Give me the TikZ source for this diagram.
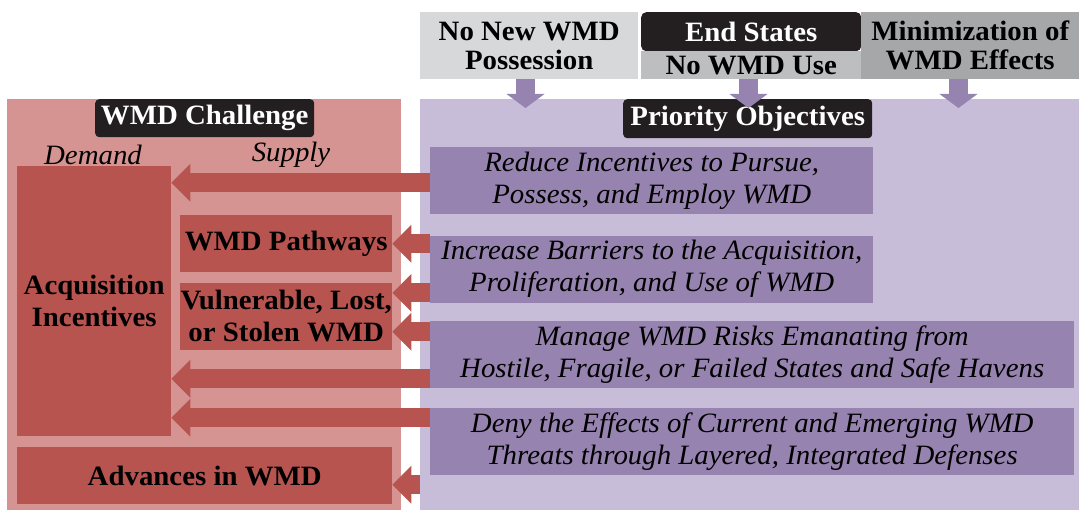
\documentclass[tikz,border=0pt]{standalone}
\usepackage{fontspec}
\setmainfont{Liberation Serif}[FakeStretch=1.03]
\usepackage{xcolor}
\usepackage{tikz}
\usetikzlibrary{arrows.meta,positioning,calc}
\definecolor{WMDpink}{HTML}{D59492}
\definecolor{WMDred}{HTML}{B85450}
\definecolor{WMDlilac}{HTML}{C8BDD9}
\definecolor{WMDpurple}{HTML}{9783B0}
\definecolor{WMDblack}{HTML}{231F20}
\definecolor{WMDgrayA}{HTML}{D7D8DA}
\definecolor{WMDgrayB}{HTML}{BDBEC0}
\definecolor{WMDgrayC}{HTML}{A6A7A9}
\tikzset{
  wmd/base/.style={anchor=north west, inner sep=0pt, align=center, font=\fontsize{28}{32}\selectfont\bfseries},
  wmd/panel/.style={wmd/base, fill=#1},
  wmd/head/.style={wmd/base, fill=#1, font=\fontsize{28}{29}\selectfont\bfseries},
  wmd/label/.style={wmd/base, fill=WMDblack, text=white, rounded corners=4pt},
  wmd/box/.style={wmd/base, fill=WMDred},
  wmd/goal/.style={wmd/base, fill=WMDpurple, font=\fontsize{28}{32}\selectfont\itshape},
  wmd/side/.style={inner sep=0pt, font=\fontsize{28}{32}\selectfont\itshape},
  wmd/push/.style={draw=WMDred, line width=19pt, -{Triangle[length=19pt,width=38pt,line width=0pt]}},
  wmd/down/.style={draw=WMDpurple, line width=19pt, -{Triangle[length=14pt,width=38pt,line width=0pt]}}
}
\begin{document}
\begin{tikzpicture}[x=1pt, y=-1pt]
  \useasboundingbox (0,0) rectangle (1079,510);

  \node[wmd/panel=WMDpink, minimum width=394pt, minimum height=411pt] (chal) at (7,99) {};
  \node[wmd/panel=WMDlilac, minimum width=659pt, minimum height=411pt] (objs) at (420,99) {};

  \node[wmd/head=WMDgrayA, minimum width=218pt, minimum height=67pt] (h1) at (420,12) {No New WMD\\Possession};
  \node[wmd/label, rounded corners=5pt, minimum width=220pt, minimum height=39pt] (ends) at (641,12) {End States};
  \node[wmd/head=WMDgrayB, minimum width=220pt, minimum height=28pt] (h2) at (641,51) {No WMD Use};
  \node[wmd/head=WMDgrayC, minimum width=218pt, minimum height=67pt] (h3) at (861,12) {Minimization of\\WMD Effects};

  \node[wmd/label, minimum width=219pt, minimum height=38pt] (chaltitle) at (95,99) {WMD Challenge};
  \node[wmd/label, minimum width=249pt, minimum height=39pt] (objtitle) at (623,99) {Priority Objectives};

  \node[wmd/side] (dem) at (93,155) {Demand};
  \node[wmd/side] (sup) at (291,155) {Supply};

  \node[wmd/box, minimum width=154pt, minimum height=270pt] (acq) at (17,166) {Acquisition\\Incentives};
  \node[wmd/box, minimum width=212pt, minimum height=57pt] (path) at (180,215) {WMD Pathways};
  \node[wmd/box, minimum width=212pt, minimum height=67pt, below=10pt of path] (vuln) {Vulnerable, Lost,\\or Stolen WMD};
  \node[wmd/box, minimum width=375pt, minimum height=57pt] (adv) at (17,447) {Advances in WMD};

  \node[wmd/goal, minimum width=443pt, minimum height=67pt] (obj1) at (430,147) {Reduce Incentives to Pursue,\\Possess, and Employ WMD};
  \node[wmd/goal, minimum width=443pt, minimum height=67pt, below=21pt of obj1] (obj2) {Increase Barriers to the Acquisition,\\Proliferation, and Use of WMD};
  \node[wmd/goal, minimum width=644pt, minimum height=67pt, below right=18pt and 0pt of obj2.south west] (obj3) {Manage WMD Risks Emanating from\\Hostile, Fragile, or Failed States and Safe Havens};
  \node[wmd/goal, minimum width=644pt, minimum height=67pt, below=20pt of obj3] (obj4) {Deny the Effects of Current and Emerging WMD\\Threats through Layered, Integrated Defenses};

  \coordinate (v1) at ([yshift=-10.5pt]vuln.north east);
  \coordinate (v2) at ([yshift=18pt]vuln.south east);
  \coordinate (d1) at ([yshift=9.5pt]obj3.south west);
  \coordinate (e1) at ([yshift=-9.5pt]obj4.north west);
  \coordinate (f1) at ([yshift=-9pt]adv.east);

  \draw[wmd/push] ([yshift=-2pt]obj1.west) -- ([yshift=-2pt]obj1.west -| acq.east);
  \draw[wmd/push] (obj2.west |- path.east) -- (path.east);
  \draw[wmd/push] (obj2.west |- v1) -- (v1);
  \draw[wmd/push] (obj3.west |- v2) -- (v2);
  \draw[wmd/push] (d1) -- (d1 -| acq.east);
  \draw[wmd/push] (e1) -- (e1 -| acq.east);
  \draw[wmd/push] (objs.west |- f1) -- (f1);

  \coordinate (t1) at (525.5,108);
  \coordinate (t2) at (748.5,108);
  \coordinate (t3) at (958.5,108);
  \draw[wmd/down] (t1 |- h1.south) -- (t1);
  \draw[wmd/down] (t2 |- h2.south) -- (t2);
  \draw[wmd/down] (t3 |- h3.south) -- (t3);
\end{tikzpicture}
\end{document}
